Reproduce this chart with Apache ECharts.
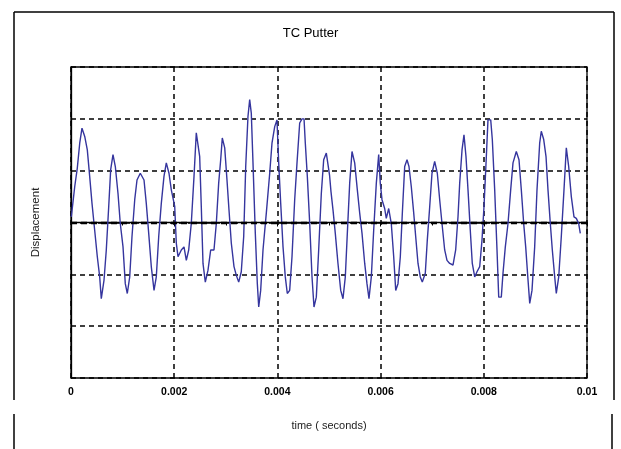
<!DOCTYPE html>
<html>
<head>
<meta charset="utf-8">
<script src="https://cdn.jsdelivr.net/npm/echarts@6/dist/echarts.min.js"></script>
<style>html,body{margin:0;padding:0;background:#fff}#c{width:621px;height:449px}</style>
</head>
<body>
<div id="c"></div>
<script>
// Data
const titleText = "TC Putter";
const xAxisName = "time ( seconds)";
const yAxisName = "Displacement";
const xTicks = [0, 0.002, 0.004, 0.006, 0.008, 0.01];
const timeValues = [
  0.000006, 0.000072, 0.000122, 0.000169, 0.000213, 0.000266, 0.000316, 0.000362,
  0.000407, 0.000459, 0.000510, 0.000556, 0.000587, 0.000640, 0.000684, 0.000731,
  0.000769, 0.000814, 0.000859, 0.000911, 0.000955, 0.001008, 0.001052, 0.001091,
  0.001138, 0.001182, 0.001235, 0.001279, 0.001343, 0.001415, 0.001459, 0.001506,
  0.001556, 0.001609, 0.001653, 0.001700, 0.001750, 0.001802, 0.001847, 0.001899,
  0.001944, 0.002010, 0.002041, 0.002074, 0.002138, 0.002190, 0.002235, 0.002281,
  0.002331, 0.002384, 0.002428, 0.002494, 0.002525, 0.002558, 0.002603, 0.002655,
  0.002707, 0.002771, 0.002816, 0.002862, 0.002901, 0.002932, 0.002979, 0.003023,
  0.003062, 0.003107, 0.003159, 0.003204, 0.003250, 0.003300, 0.003347, 0.003386,
  0.003430, 0.003463, 0.003494, 0.003527, 0.003572, 0.003611, 0.003638, 0.003676,
  0.003721, 0.003785, 0.003851, 0.003895, 0.003948, 0.003992, 0.004025, 0.004064,
  0.004109, 0.004153, 0.004192, 0.004238, 0.004283, 0.004335, 0.004380, 0.004432,
  0.004477, 0.004516, 0.004541, 0.004580, 0.004626, 0.004671, 0.004709, 0.004754,
  0.004800, 0.004851, 0.004897, 0.004948, 0.005010, 0.005039, 0.005078, 0.005122,
  0.005174, 0.005227, 0.005271, 0.005316, 0.005355, 0.005401, 0.005446, 0.005498,
  0.005549, 0.005595, 0.005640, 0.005692, 0.005736, 0.005775, 0.005820, 0.005866,
  0.005917, 0.005963, 0.005994, 0.006027, 0.006079, 0.006110, 0.006157, 0.006207,
  0.006254, 0.006293, 0.006337, 0.006382, 0.006421, 0.006467, 0.006512, 0.006550,
  0.006595, 0.006642, 0.006680, 0.006725, 0.006769, 0.006808, 0.006866, 0.006905,
  0.006952, 0.006996, 0.007048, 0.007099, 0.007145, 0.007190, 0.007242, 0.007287,
  0.007339, 0.007403, 0.007455, 0.007500, 0.007533, 0.007578, 0.007616, 0.007655,
  0.007694, 0.007738, 0.007777, 0.007824, 0.007868, 0.007921, 0.007965, 0.008004,
  0.008049, 0.008081, 0.008134, 0.008165, 0.008211, 0.008256, 0.008289, 0.008339,
  0.008372, 0.008417, 0.008469, 0.008521, 0.008566, 0.008630, 0.008682, 0.008727,
  0.008773, 0.008812, 0.008857, 0.008890, 0.008934, 0.008986, 0.009031, 0.009083,
  0.009114, 0.009161, 0.009206, 0.009244, 0.009289, 0.009328, 0.009374, 0.009405,
  0.009452, 0.009502, 0.009554, 0.009599, 0.009645, 0.009696, 0.009748, 0.009793,
  0.009839, 0.009870
];
const displacementValues = [
  0.11, 0.69, 1.05, 1.53, 1.82, 1.66, 1.40, 0.89,
  0.37, -0.15, -0.66, -1.05, -1.47, -1.11, -0.53, 0.31,
  1.02, 1.31, 1.08, 0.56, -0.02, -0.47, -1.18, -1.37,
  -1.05, -0.27, 0.44, 0.82, 0.95, 0.82, 0.37, -0.21,
  -0.85, -1.31, -1.05, -0.27, 0.37, 0.89, 1.15, 0.95,
  0.63, 0.31, -0.40, -0.66, -0.53, -0.47, -0.73, -0.53,
  -0.02, 0.89, 1.73, 1.27, 0.31, -0.79, -1.15, -0.92,
  -0.53, -0.53, -0.02, 0.76, 1.21, 1.63, 1.44, 0.82,
  0.24, -0.40, -0.85, -1.02, -1.15, -0.95, -0.27, 1.08,
  2.05, 2.37, 2.11, 1.15, -0.21, -1.18, -1.63, -1.31,
  -0.53, 0.18, 0.95, 1.53, 1.85, 1.98, 1.15, 0.37,
  -0.47, -1.05, -1.37, -1.31, -0.66, 0.44, 1.15, 1.92,
  2.00, 2.00, 1.53, 0.89, -0.02, -1.05, -1.63, -1.44,
  -0.53, 0.56, 1.21, 1.34, 0.92, 0.59, 0.24, -0.21,
  -0.79, -1.31, -1.47, -1.05, -0.21, 0.76, 1.37, 1.15,
  0.63, 0.18, -0.21, -0.79, -1.18, -1.47, -1.05, -0.15,
  0.76, 1.31, 0.76, 0.44, 0.27, 0.08, 0.27, -0.02,
  -0.66, -1.31, -1.18, -0.66, 0.18, 1.08, 1.21, 1.08,
  0.69, 0.18, -0.27, -0.79, -1.05, -1.15, -0.98, -0.34,
  0.31, 0.95, 1.18, 0.95, 0.44, -0.02, -0.53, -0.73,
  -0.79, -0.82, -0.53, 0.11, 0.76, 1.40, 1.69, 1.27,
  0.63, -0.15, -0.79, -1.05, -0.95, -0.85, -0.34, 0.31,
  1.27, 1.98, 1.98, 1.60, 0.63, -0.53, -1.44, -1.44,
  -0.98, -0.47, -0.02, 0.63, 1.15, 1.37, 1.21, 0.63,
  -0.02, -0.47, -1.11, -1.56, -1.31, -0.47, 0.63, 1.53,
  1.76, 1.60, 1.27, 0.63, -0.02, -0.53, -1.05, -1.37,
  -1.05, -0.27, 0.63, 1.44, 1.08, 0.50, 0.11, 0.08,
  -0.02, -0.21
];

const seriesData = timeValues.map((t, i) => [t, displacementValues[i]]);
const chart = echarts.init(document.getElementById('c'), null, {renderer: 'canvas'});
const font = '"Liberation Sans", Arial, sans-serif';
chart.setOption({
  animation: false,
  backgroundColor: '#fff',
  title: {
    text: titleText, left: 'center', top: 22,
    textStyle: {fontFamily: font, fontSize: 13, fontWeight: 'normal', color: '#000'}
  },
  grid: {left: 71, right: 34, top: 67, bottom: 71, show: true, borderColor: '#000', borderWidth: 1.3, backgroundColor: 'transparent'},
  xAxis: {
    type: 'value', min: xTicks[0], max: xTicks[xTicks.length - 1], interval: 0.002,
    name: xAxisName, nameLocation: 'middle', nameGap: 42,
    nameTextStyle: {fontFamily: font, fontSize: 11, color: '#222'},
    axisLine: {lineStyle: {color: '#000', width: 1.3}},
    axisTick: {show: true, length: 4, lineStyle: {color: '#000'}},
    minorTick: {show: true, splitNumber: 2, length: 3, lineStyle: {color: '#000'}},
    axisLabel: {fontFamily: font, fontSize: 10.5, fontWeight: 'bold', color: '#000', margin: 9,
      formatter: v => String(+v.toFixed(3))},
    splitLine: {show: true, lineStyle: {color: '#000', type: [5, 4], width: 1.5}}
  },
  yAxis: {
    type: 'value', min: -3, max: 3, interval: 1,
    name: yAxisName, nameLocation: 'middle', nameGap: 29, nameRotate: 90,
    nameTextStyle: {fontFamily: font, fontSize: 11.5, color: '#222'},
    axisLine: {show: true, lineStyle: {color: '#000', width: 1.3}},
    axisTick: {show: false},
    axisLabel: {show: false},
    splitLine: {show: true, lineStyle: {color: '#000', type: [5, 4], width: 1.5}}
  },
  series: [{
    type: 'line', data: seriesData, showSymbol: false,
    lineStyle: {color: '#35359e', width: 1.4},
    z: 3,
    markLine: {
      silent: true, symbol: 'none', label: {show: false},
      lineStyle: {color: '#000', type: [6, 4], width: 2.4},
      data: [{yAxis: 0}]
    }
  }],
  graphic: [
    {type: 'line', shape: {x1: 14, y1: 12, x2: 614, y2: 12}, style: {stroke: '#000', lineWidth: 1.5}},
    {type: 'line', shape: {x1: 14, y1: 12, x2: 14, y2: 400}, style: {stroke: '#000', lineWidth: 1.5}},
    {type: 'line', shape: {x1: 614, y1: 12, x2: 614, y2: 400}, style: {stroke: '#000', lineWidth: 1.5}},
    {type: 'line', shape: {x1: 14, y1: 414, x2: 14, y2: 449}, style: {stroke: '#000', lineWidth: 1.5}},
    {type: 'line', shape: {x1: 612, y1: 414, x2: 612, y2: 449}, style: {stroke: '#000', lineWidth: 1.5}}
  ]
});
</script>
</body>
</html>
